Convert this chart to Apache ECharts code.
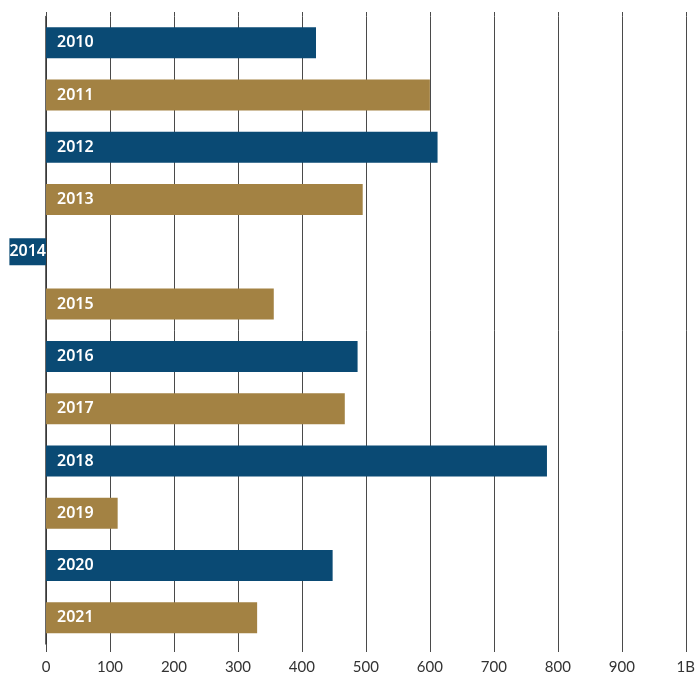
<!DOCTYPE html>
<html>
<head>
<meta charset="utf-8">
<script src="https://cdn.jsdelivr.net/npm/echarts@6/dist/echarts.min.js"></script>
<style>
  html, body { margin: 0; padding: 0; background: #fff; }
  #chart { width: 698px; height: 675px; }
</style>
</head>
<body>
<div id="chart"></div>
<script>
// Yearly totals, drawn as horizontal bars
const years = ['2010', '2011', '2012', '2013', '2014', '2015', '2016', '2017', '2018', '2019', '2020', '2021'];
const values = [422, 600, 612, 495, 0, 356, 487, 467, 783, 112, 448, 330];
const xTicks = [0, 100, 200, 300, 400, 500, 600, 700, 800, 900, 1000];
const xTickLabels = ['0', '100', '200', '300', '400', '500', '600', '700', '800', '900', '1B'];

const BLUE = '#0a4a74';
const GOLD = '#a38243';
const GRID_LINE = '#4a4a4a';
const AXIS_FONT = 'Lato, "Open Sans", sans-serif';
const BAR_FONT = '"Noto Sans", "Open Sans", sans-serif';

const barData = values.map((v, i) => {
  const color = i % 2 === 0 ? BLUE : GOLD;
  const item = { value: v, itemStyle: { color: color } };
  if (v === 0) {
    // zero-length bar: the year tag sits just left of the axis
    item.label = {
      position: 'left',
      distance: 0,
      backgroundColor: color,
      padding: [6, 0, 5, 0]
    };
  }
  return item;
});

const chart = echarts.init(document.getElementById('chart'));
const xCommon = {
  type: 'value',
  min: xTicks[0],
  max: xTicks[xTicks.length - 1],
  interval: 100,
  axisLine: { show: false }
};

chart.setOption({
  animation: false,
  grid: { left: 46, right: 10, top: 16.5, bottom: 30 },
  xAxis: [
    Object.assign({}, xCommon, {
      position: 'bottom',
      axisTick: { show: true, length: 8, lineStyle: { color: GRID_LINE, width: 1 } },
      splitLine: { show: true, lineStyle: { color: GRID_LINE, width: 1 } },
      axisLabel: {
        margin: 16,
        color: '#333',
        fontFamily: AXIS_FONT,
        fontSize: 15,
        formatter: (v) => xTickLabels[xTicks.indexOf(v)]
      }
    }),
    Object.assign({}, xCommon, {
      position: 'top',
      axisTick: { show: true, length: 4.5, lineStyle: { color: GRID_LINE, width: 1 } },
      splitLine: { show: false },
      axisLabel: { show: false }
    })
  ],
  yAxis: {
    type: 'category',
    data: years,
    inverse: true,
    axisLine: { show: true, lineStyle: { color: '#333', width: 1.5 } },
    axisTick: { show: false },
    axisLabel: { show: false }
  },
  series: [{
    type: 'bar',
    xAxisIndex: 0,
    data: barData,
    barWidth: 31,
    label: {
      show: true,
      position: 'insideLeft',
      distance: 11,
      color: '#fff',
      fontFamily: BAR_FONT,
      fontSize: 16,
      fontWeight: 600,
      formatter: (p) => years[p.dataIndex]
    }
  }]
});
</script>
</body>
</html>
